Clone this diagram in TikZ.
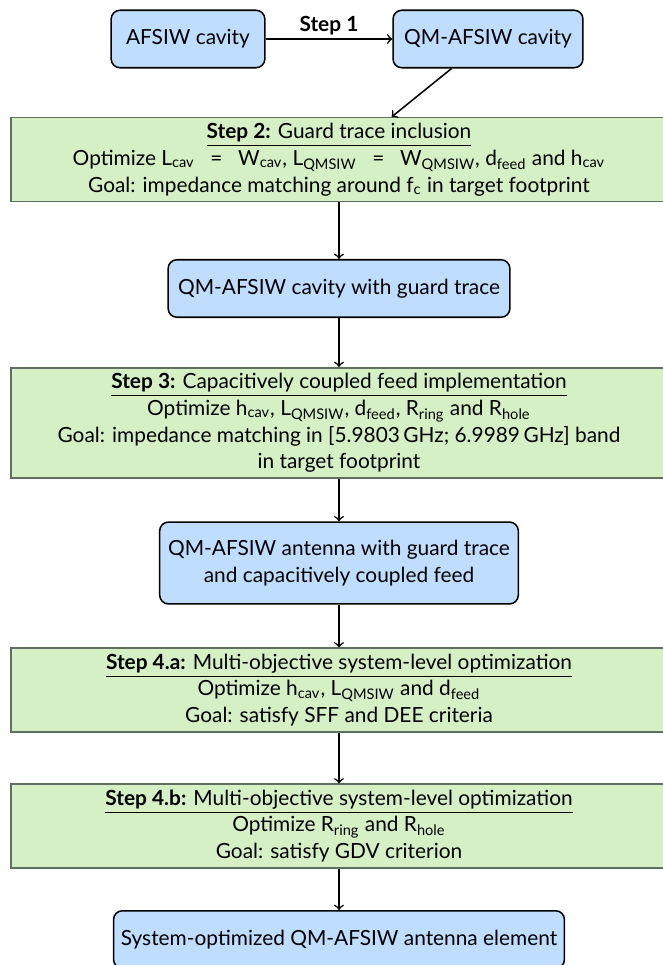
\documentclass[tikz,border=0pt]{standalone}
\usepackage{fontspec}
\setmainfont{Lato}
\definecolor{cavblue}{RGB}{190,221,255}
\definecolor{stepgreen}{RGB}{213,240,196}
\definecolor{stepedge}{RGB}{96,112,96}
\newcommand{\stephead}[2]{\underline{\textbf{#1} #2}}
\newcommand{\eqsp}{\hspace{.75em}=\hspace{.75em}}
\begin{document}
\begin{tikzpicture}[x=.016cm,y=-.016cm,line width=.7pt,
  every node/.style={font=\fontsize{9.5}{12.2}\selectfont},
  cavbox/.style={draw,rounded corners=4pt,fill=cavblue,align=center,minimum height=.92cm},
  stepbox/.style={draw=stepedge,fill=stepgreen,align=center,minimum width=10.5cm,inner sep=2.5pt}]
  \useasboundingbox(0,0)rectangle(662,965);
  \node[cavbox,minimum width=2.46cm](afsiw)at(188,39){AFSIW cavity};
  \node[cavbox,minimum width=3.04cm](qmcav)at(488,39){QM-AFSIW cavity};
  \node[stepbox,minimum height=1.3cm](step2)at(339,159.5){\stephead{Step 2:}{Guard trace inclusion}\\
    Optimize L\textsubscript{cav}\eqsp W\textsubscript{cav}, L\textsubscript{QMSIW}\eqsp W\textsubscript{QMSIW}, d\textsubscript{feed} and h\textsubscript{cav}\\
    Goal: impedance matching around f\textsubscript{c} in target footprint};
  \node[cavbox,minimum width=5.47cm](guard)at(339,288.5){QM-AFSIW cavity with guard trace};
  \node[stepbox](step3)at(339,423){\stephead{Step 3:}{Capacitively coupled feed implementation}\\
    Optimize h\textsubscript{cav}, L\textsubscript{QMSIW}, d\textsubscript{feed}, R\textsubscript{ring} and R\textsubscript{hole}\\
    Goal: impedance matching in [5.9803\,GHz; 6.9989\,GHz] band\\
    in target footprint};
  \node[cavbox,minimum width=5.74cm,minimum height=1.31cm](antenna)at(339,563){QM-AFSIW antenna with guard trace\\and capacitively coupled feed};
  \node[stepbox](step4a)at(339,690){\stephead{Step 4.a:}{Multi-objective system-level optimization}\\
    Optimize h\textsubscript{cav}, L\textsubscript{QMSIW} and d\textsubscript{feed}\\
    Goal: satisfy SFF and DEE criteria};
  \node[stepbox](step4b)at(339,826){\stephead{Step 4.b:}{Multi-objective system-level optimization}\\
    Optimize R\textsubscript{ring} and R\textsubscript{hole}\\
    Goal: satisfy GDV criterion};
  \node[cavbox,minimum width=7.15cm](final)at(339,939.5){System-optimized QM-AFSIW antenna element};
  \draw[->](afsiw)--node[above,inner sep=1.5pt,font=\fontsize{9.5}{12}\selectfont\bfseries]{Step 1}(qmcav);
  \draw[->](qmcav)--(step2);
  \draw[->](step2)--(guard);
  \draw[->](guard)--(step3);
  \draw[->](step3)--(antenna);
  \draw[->](antenna)--(step4a);
  \draw[->](step4a)--(step4b);
  \draw[->](step4b)--(final);
\end{tikzpicture}
\end{document}
